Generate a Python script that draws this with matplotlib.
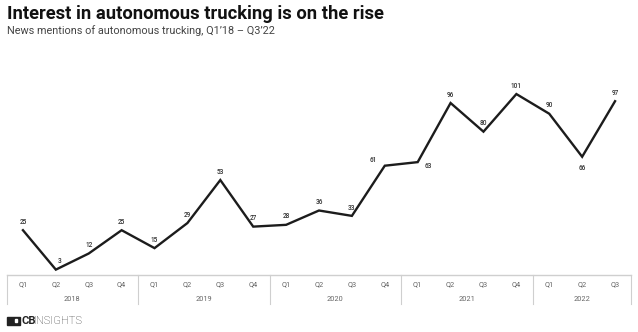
import matplotlib.pyplot as plt
import numpy as np

plt.rcParams['font.family'] = ['Roboto', 'DejaVu Sans']

# Data
quarters = ['Q1', 'Q2', 'Q3', 'Q4'] * 4 + ['Q1', 'Q2', 'Q3']
years = ['2018', '2019', '2020', '2021', '2022']
mentions = [25, 3, 12, 25, 15, 29, 53, 27, 28, 36, 33, 61, 63, 96, 80, 101, 90, 66, 97]

W, H = 638, 332
fig = plt.figure(figsize=(W / 100, H / 100), dpi=100)

# Plot area in pixel coords
left, right, bottom, top = 6.5, 631.5, 275, 60
ax = fig.add_axes([left / W, 1 - bottom / H, (right - left) / W, (bottom - top) / H])
x = np.arange(len(mentions))
ax.plot(x, mentions, color='#1c1c1c', lw=1.7, solid_joinstyle='miter')
ax.set_xlim(-0.5, len(mentions) - 0.5)
ax.set_ylim(0, 120)
ax.axis('off')

# Point labels (offsets in points)
offsets = {1: (3, 6), 11: (-8, 4), 12: (8, -3), 17: (0, -8)}
for i, v in enumerate(mentions):
    dx, dy = offsets.get(i, (0, 6))
    ax.annotate(str(v), (i, v), xytext=(dx, dy), textcoords='offset points',
                ha='center', va='center', fontsize=4.7, color='#333333',
                fontweight='medium')

# Category axis box below
bx = fig.add_axes([left / W, 1 - 304 / H, (right - left) / W, 29 / H])
bx.set_xlim(-0.5, len(mentions) - 0.5)
bx.set_ylim(0, 1)
bx.axis('off')
grid = '#cfcfcf'
bx.plot([-0.5, len(mentions) - 0.5], [1, 1], color=grid, lw=1, clip_on=False)
for b in [-0.5, 3.5, 7.5, 11.5, 15.5, len(mentions) - 0.5]:
    bx.plot([b, b], [0, 1], color=grid, lw=0.8, clip_on=False)
for i, q in enumerate(quarters):
    bx.text(i, 0.65, q, ha='center', va='center', fontsize=5.3, color='#666666')
for k, yr in enumerate(years):
    start = k * 4
    end = min(start + 3, len(mentions) - 1)
    bx.text((start + end) / 2, 0.17, yr, ha='center', va='center', fontsize=5.3, color='#666666')

# Titles
fig.text(7 / W, 1 - 14 / H, 'Interest in autonomous trucking is on the rise',
         fontsize=13.2, fontweight='bold', color='#111111', va='center', ha='left')
fig.text(7 / W, 1 - 31 / H, 'News mentions of autonomous trucking, Q1\u201918 \u2013 Q3\u201922',
         fontsize=7.8, color='#444444', va='center', ha='left')

# Logo
fig.patches.append(plt.Rectangle((6.5 / W, 1 - 324.5 / H), 13 / W, 8 / H, transform=fig.transFigure,
                                 color='#222222'))
fig.patches.append(plt.Rectangle((14.5 / W, 1 - 322 / H), 2 / W, 3 / H, transform=fig.transFigure,
                                 color='white'))
fig.text(21 / W, 1 - 320.5 / H, 'CB', fontsize=8, fontweight='bold', color='#222222', va='center')
fig.text(34 / W, 1 - 320.5 / H, 'INSIGHTS', fontsize=8, fontweight='light', color='#333333', va='center')

fig.savefig('out.png', dpi=100)
